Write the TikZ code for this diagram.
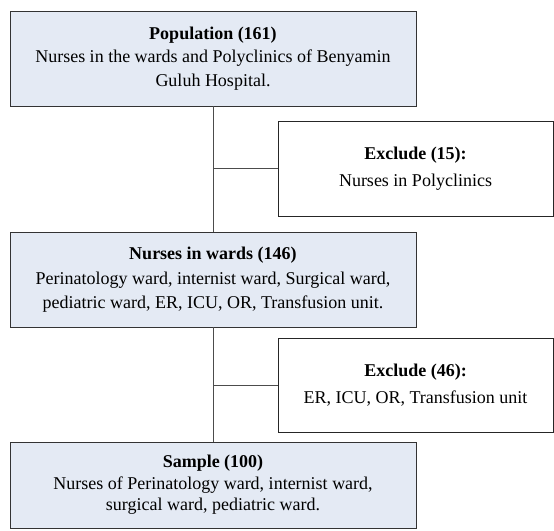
\documentclass[tikz,border=0pt]{standalone}
\usepackage{fontspec}
\setmainfont{Liberation Serif}
\definecolor{boxblue}{HTML}{E4EAF4}
\begin{document}
\begin{tikzpicture}[x=1pt, y=-1pt,
    font=\fontsize{18}{23.5}\selectfont,
    B/.style={draw=black!80, line width=0.9pt, fill=boxblue, align=center,
      minimum width=406pt, minimum height=95pt, inner sep=0pt},
    E/.style={draw=black!85, line width=0.9pt, fill=white, align=center,
      minimum width=275pt, minimum height=95pt, inner sep=0pt},
    L/.style={draw=black!70, line width=0.8pt}
  ]
  \useasboundingbox (0,0) rectangle (554,530);
  \node [B] (pop) at (213,58.5) {\textbf{Population (161)}\\
    Nurses in the wards and Polyclinics of Benyamin\\ Guluh Hospital.};
  \node [E] (ex1) at (415.5,168.5) {\textbf{Exclude (15):}\\[4pt] Nurses in Polyclinics};
  \node [B] (wards) at (213,279.5) {\textbf{Nurses in wards (146)}\\[2pt]
    Perinatology ward, internist ward, Surgical ward,\\
    pediatric ward, ER, ICU, OR, Transfusion unit.};
  \node [E, minimum height=94pt] (ex2) at (415.5,385) {\textbf{Exclude (46):}\\[4pt] ER, ICU, OR, Transfusion unit};
  \node [B, minimum height=86pt] (sample) at (213,485) {\textbf{Sample (100)}\\[-2pt]
    Nurses of Perinatology ward, internist ward,\\[-2pt] surgical ward, pediatric ward.};
  % connectors
  \draw [L] (pop.south) -- (wards.north);
  \draw [L] (wards.south) -- (sample.north);
  \draw [L] (pop.south |- ex1.west) -- (ex1.west);
  \draw [L] (wards.south |- ex2.west) -- (ex2.west);
\end{tikzpicture}
\end{document}
